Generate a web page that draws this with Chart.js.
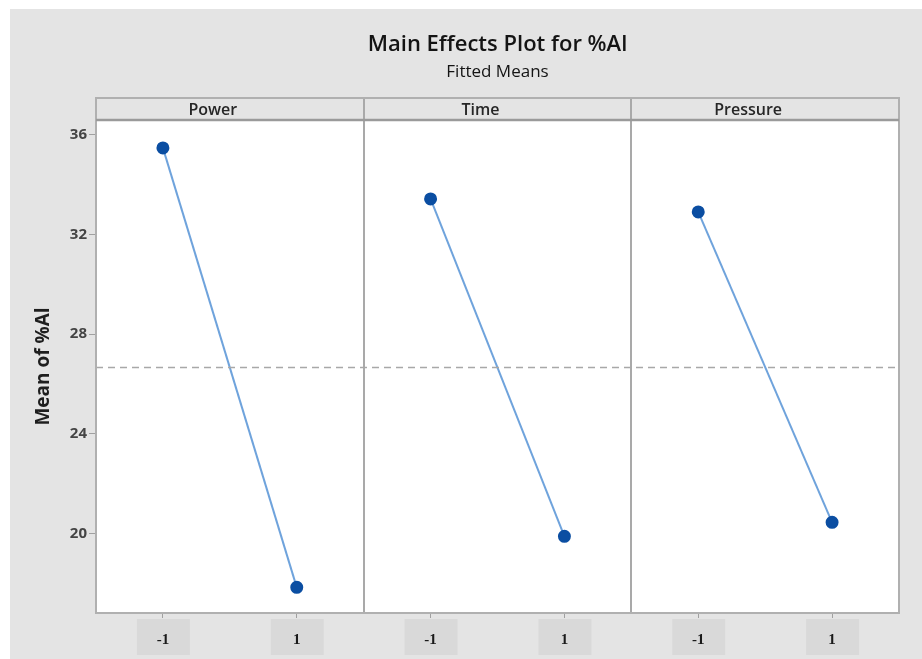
<!DOCTYPE html>
<html>
<head>
<meta charset="utf-8">
<script src="https://cdn.jsdelivr.net/npm/chart.js@4.4.1/dist/chart.umd.min.js"></script>
<style>
  html, body { margin: 0; padding: 0; background: #ffffff; }
  #wrap { width: 922px; height: 659px; }
</style>
</head>
<body>
<div id="wrap"><canvas id="c" width="922" height="659"></canvas></div>
<script>
// ---- data ----
const factors = ['Power', 'Time', 'Pressure'];
const levels = ['-1', '1'];
const powerMeans = [35.48, 17.83];
const timeMeans = [33.43, 19.88];
const pressureMeans = [32.91, 20.44];
const overallMean = 26.66;
const yTickValues = [20, 24, 28, 32, 36];
const chartTitle = 'Main Effects Plot for %Al';
const chartSubtitle = 'Fitted Means';
const yAxisTitle = 'Mean of %Al';

const seriesMeans = [powerMeans, timeMeans, pressureMeans];
const slot = (f, l) => 4 * f + 1 + 2 * l;   // panel f, level l on a 0..12 axis

const BG = '#e4e4e4';
const lineColor = '#6fa3dc';
const pointColor = '#0b4ea2';

const datasets = seriesMeans.map((vals, f) => ({
  label: factors[f],
  data: vals.map((v, l) => ({ x: slot(f, l), y: v })),
  borderColor: lineColor,
  borderWidth: 2,
  pointBackgroundColor: pointColor,
  pointBorderColor: pointColor,
  pointRadius: 5.5,
  pointStyle: 'circle',
  tension: 0
}));
datasets.unshift({
  label: 'Mean',
  data: [{ x: 0, y: overallMean }, { x: 4 * factors.length, y: overallMean }],
  borderColor: '#a8a8a8',
  borderWidth: 1.6,
  borderDash: [7, 5],
  pointRadius: 0
});

const decor = {
  id: 'decor',
  beforeDraw(chart) {
    const { ctx, chartArea: a, scales: { x } } = chart;
    ctx.save();
    ctx.fillStyle = '#ffffff';
    ctx.fillRect(0, 0, chart.width, chart.height);
    ctx.fillStyle = BG;
    ctx.fillRect(10, 9, chart.width - 10, chart.height - 9);
    // tick label boxes
    ctx.fillStyle = '#d9d9d9';
    x.ticks.forEach(t => {
      const px = x.getPixelForValue(t.value);
      ctx.fillRect(px - 26, a.bottom + 6, 53, 36);
    });
    // plot area
    ctx.fillStyle = '#ffffff';
    ctx.fillRect(a.left, a.top, a.right - a.left, a.bottom - a.top);
    // title
    const cx = (a.left + a.right) / 2;
    ctx.fillStyle = '#141414';
    ctx.textAlign = 'center';
    ctx.textBaseline = 'middle';
    ctx.font = '600 22px "Open Sans"';
    ctx.fillText(chartTitle, cx, 45);
    ctx.font = '500 17px "Open Sans"';
    ctx.fillText(chartSubtitle, cx, 72);
    ctx.restore();
  },
  beforeDatasetsDraw(chart) {
    const { ctx, chartArea: a, scales: { x } } = chart;
    ctx.save();
    ctx.strokeStyle = '#a9a9a9';
    ctx.lineWidth = 2;
    for (let f = 1; f < factors.length; f++) {
      const px = Math.round(x.getPixelForValue(4 * f));
      ctx.beginPath();
      ctx.moveTo(px, a.top - 22);
      ctx.lineTo(px, a.bottom);
      ctx.stroke();
    }
    ctx.restore();
  },
  afterDraw(chart) {
    const { ctx, chartArea: a, scales: { x } } = chart;
    ctx.save();
    // frame
    ctx.strokeStyle = '#b0b0b0';
    ctx.lineWidth = 2;
    ctx.strokeRect(a.left, a.top - 22, a.right - a.left, a.bottom - a.top + 22);
    // header strip bottom line
    ctx.strokeStyle = '#9a9a9a';
    ctx.lineWidth = 2.5;
    ctx.beginPath();
    ctx.moveTo(a.left, a.top);
    ctx.lineTo(a.right, a.top);
    ctx.stroke();
    // header labels
    ctx.fillStyle = '#262626';
    ctx.font = '600 16px "Open Sans"';
    ctx.textAlign = 'center';
    ctx.textBaseline = 'middle';
    factors.forEach((name, f) => {
      const px = x.getPixelForValue(4 * f + 2);
      ctx.fillText(name, px - 17, a.top - 10);
    });
    ctx.restore();
  }
};

new Chart(document.getElementById('c'), {
  type: 'line',
  data: { datasets },
  plugins: [decor],
  options: {
    responsive: false,
    animation: false,
    layout: { padding: { top: 120, right: 23, bottom: 0, left: 10 } },
    plugins: {
      legend: { display: false },
      title: { display: false },
      tooltip: { enabled: false }
    },
    scales: {
      x: {
        type: 'linear',
        min: 0,
        max: 4 * factors.length,
        afterBuildTicks: axis => {
          axis.ticks = factors.flatMap((_, f) => levels.map((_, l) => ({ value: slot(f, l) })));
        },
        afterFit: axis => { axis.height = 46; },
        ticks: {
          autoSkip: false,
          maxRotation: 0,
          padding: 13,
          color: '#1a1a1a',
          font: { family: '"Liberation Serif"', size: 15, weight: 'bold' },
          callback: v => levels[((v - 1) / 2) % 2]
        },
        grid: { drawOnChartArea: false, drawTicks: true, tickLength: 5, color: '#a0a0a0' },
        border: { display: false }
      },
      y: {
        min: 16.8,
        max: 36.6,
        afterBuildTicks: axis => {
          axis.ticks = yTickValues.map(v => ({ value: v }));
        },
        afterFit: axis => { axis.width = 86; },
        ticks: {
          padding: 2,
          color: '#444444',
          font: { family: '"Open Sans"', size: 15, weight: 'bold' }
        },
        grid: { drawOnChartArea: false, drawTicks: true, tickLength: 7, color: '#a0a0a0' },
        border: { display: false },
        title: {
          display: true,
          text: yAxisTitle,
          color: '#1e1e1e',
          font: { family: '"Open Sans"', size: 19, weight: 'bold' },
          padding: { top: 22, bottom: 0 }
        }
      }
    }
  }
});
</script>
</body>
</html>
